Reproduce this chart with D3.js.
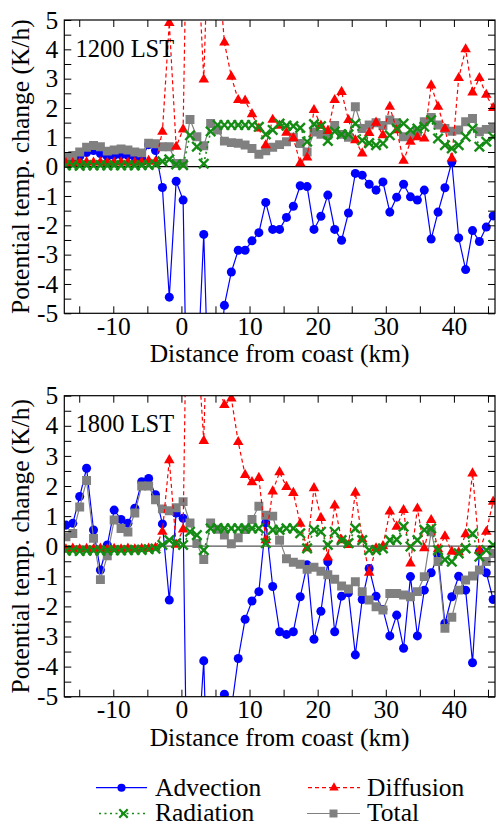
<!DOCTYPE html>
<html><head><meta charset="utf-8">
<script src="https://cdn.jsdelivr.net/npm/d3@7"></script>
<style>
body{margin:0;background:#fff}
svg{display:block}
svg text{font-family:"Liberation Serif","Tinos","Times New Roman",Times,serif;fill:#000}
</style>
</head><body>
<svg id="chart" width="496" height="825" font-family="Liberation Serif"></svg>
<script>
// ---- data ----
const distanceKm = [-16.95,-15.94,-14.93,-13.92,-12.90,-11.89,-10.88,-9.87,-8.86,-7.85,
 -6.84,-5.83,-4.81,-3.80,-2.79,-1.78,-0.77,0.25,1.26,2.27,
 3.28,4.29,5.30,6.31,7.33,8.34,9.35,10.36,11.37,12.38,
 13.40,14.41,15.42,16.43,17.44,18.45,19.46,20.48,21.49,22.50,
 23.51,24.52,25.53,26.54,27.56,28.57,29.58,30.59,31.60,32.61,
 33.62,34.64,35.65,36.66,37.67,38.68,39.69,40.70,41.72,42.73,
 43.74,44.75,45.76];

const xTickValues = [-15,-10,-5,0,5,10,15,20,25,30,35,40,45];
const xTickLabels = [-10,0,10,20,30,40];
const yTickValues = [-5,-4.5,-4,-3.5,-3,-2.5,-2,-1.5,-1,-0.5,0,0.5,1,1.5,2,2.5,3,3.5,4,4.5,5];
const yTickLabels = [-5,-4,-3,-2,-1,0,1,2,3,4,5];
const panelLabels = ["1200 LST","1800 LST"];
const seriesNames = ["Advection","Diffusion","Radiation","Total"];

const advection1200 = [0.2,0.22,0.35,0.48,0.55,0.45,0.35,0.38,0.4,0.38,
 0.33,0.3,0.75,0.55,-0.71,-4.45,-0.5,-1.14,-14.5,-7.5,
 -2.31,-10.2,-7.4,-4.73,-3.59,-2.85,-2.85,-2.53,-2.25,-1.22,
 -2.14,-2.14,-1.73,-1.35,-0.65,-0.68,-2.14,-1.69,-0.97,-2.14,
 -2.51,-1.58,-0.23,-0.29,-0.6,-0.8,-0.52,-1.55,-1.04,-0.6,
 -1.03,-1.14,-0.8,-2.47,-1.55,-0.72,0.16,-2.43,-3.51,-2.18,
 -2.55,-2.06,-1.68];
const diffusion1200 = [0.12,0.12,0.13,0.15,0.14,0.15,0.13,0.14,0.15,0.14,
 0.14,0.15,0.2,0.17,1.19,4.9,0.68,1.27,15,7.8,
 2.97,10.5,7.2,4.23,3.07,2.27,2.25,1.79,1.3,0.73,
 1.6,1.4,1.16,0.97,0.12,0.31,1.93,1.4,1.22,2.27,
 2.55,1.59,0.9,0.45,1.15,1.5,1.07,2.04,1.24,0.2,
 0.85,1.0,0.96,2.77,2.04,1.29,0.28,3.02,4.0,2.53,
 3.02,2.45,2.0];
const radiation1200 = [0.04,0.05,0.03,0.05,0.04,0.05,0.04,0.05,0.04,0.05,
 0.04,0.05,0.06,0.08,0.18,0.25,0.08,0.05,1.07,0.68,
 0.1,1.2,1.42,1.42,1.42,1.42,1.42,1.42,1.36,1.1,
 1.25,1.47,1.4,1.38,1.32,0.85,1.45,1.38,0.88,1.2,
 1.1,1.1,1.47,0.9,0.8,0.73,0.79,1.07,1.3,1.47,
 1.25,1.3,1.36,1.59,0.96,0.73,0.62,0.73,1.02,1.3,
 0.68,0.85,1.02];
const total1200 = [0.34,0.38,0.5,0.66,0.72,0.68,0.53,0.57,0.6,0.57,
 0.5,0.47,0.8,0.78,0.68,0.68,0.11,0.11,1.61,1.02,
 0.71,1.47,1.25,0.87,0.82,0.8,0.74,0.62,0.42,0.54,
 0.66,0.75,0.85,1.0,0.79,0.5,1.18,1.1,1.08,1.4,
 1.1,1.0,2.04,1.3,1.42,1.5,1.4,1.59,1.5,1.02,
 1.04,1.19,1.53,1.68,1.42,1.3,1.21,1.25,1.53,1.64,
 1.19,1.27,1.3];

const advection1800 = [0.7,0.76,1.65,2.59,0.54,-0.79,0.04,1.2,0.89,0.76,
 1.26,2.14,2.25,1.71,0.74,-1.79,1.1,0.93,-15.6,-7.35,
 -3.81,-11.6,-5.5,-4.92,-5.42,-3.73,-2.43,-1.82,-1.51,0.78,
 -1.34,-2.84,-2.93,-2.84,-1.68,-0.62,-3.09,-2.16,-0.52,-2.84,
 -1.66,-1.55,-3.61,-1.77,-0.74,-1.66,-2.1,-2.98,-2.29,-3.39,
 -1.01,-2.98,-1.46,-0.88,-0.3,-2.56,-1.68,-1.0,-1.46,-3.87,
 -0.18,-0.88,-1.77];
const diffusion1800 = [-0.1,-0.08,-0.1,-0.09,-0.1,-0.08,-0.1,-0.09,-0.1,-0.08,
 -0.1,-0.09,-0.08,-0.05,0.48,2.86,0.05,0.56,15.9,7.07,
 3.5,11.8,5.47,4.69,4.91,3.46,2.37,2.13,2.27,0.2,
 1.82,2.46,1.97,1.77,0.75,-0.07,1.93,0.94,-0.37,1.35,
 0.2,0.04,1.78,0.23,-0.88,-0.07,0.0,1.15,0.65,1.2,
 -0.57,1.25,-0.07,0.87,-0.1,0.33,-0.18,-0.2,0.4,2.42,
 -0.15,0.48,1.48];
const radiation1800 = [-0.15,-0.14,-0.16,-0.15,-0.14,-0.15,-0.14,-0.13,-0.14,-0.13,
 -0.12,-0.12,-0.1,-0.08,0.04,0.2,0.1,0.04,0.48,0.37,
 -0.13,0.59,0.6,0.59,0.59,0.59,0.59,0.59,0.59,0.1,
 0.54,0.54,0.59,0.59,0.43,-0.07,0.54,0.48,0.04,0.48,
 0.2,0.1,0.59,0.2,-0.13,-0.13,-0.07,0.2,0.22,0.65,
 -0.01,0.2,0.54,0.59,-0.13,-0.45,-0.51,-0.24,-0.07,0.42,
 -0.35,-0.13,0.04];
const total1800 = [0.31,0.42,1.3,2.18,0.26,-1.11,-0.32,0.87,0.59,0.47,
 1.1,2.0,2.0,1.54,1.24,1.18,1.28,1.48,0.77,0.09,
 -0.44,0.77,0.56,0.37,0.08,0.28,0.55,0.89,1.33,1.03,
 1.0,0.2,-0.42,-0.53,-0.6,-0.77,-0.7,-0.83,-0.95,-1.1,
 -1.32,-1.42,-1.18,-1.51,-1.79,-2.01,-2.12,-1.57,-1.57,-1.62,
 -1.68,-1.51,-1.01,0.48,-0.51,-2.73,-2.36,-1.46,-1.12,-0.99,
 -0.79,-0.51,-0.24];

// ---- styles ----
const FONT = 25.5;
const FAMILY = '"Liberation Serif","Tinos","Times New Roman",Times,serif';
const styles = {
  Advection: {color:"#0000ff", dash:null, width:1.2, symbol:d3.symbolCircle, size:64, fill:true},
  Diffusion: {color:"#ff0000", dash:"4,3", width:1.2, symbol:d3.symbolTriangle, size:48, fill:true},
  Radiation: {color:"#148c14", dash:"2,3.5", width:1.6, symbol:d3.symbolTimes, size:60, fill:false},
  Total:     {color:"#808080", dash:null, width:1.2, symbol:d3.symbolSquare, size:80, fill:true}
};
const drawOrder = ["Advection","Total","Diffusion","Radiation"];

const svg = d3.select("#chart");
svg.append("rect").attr("width",496).attr("height",825).attr("fill","#fff");

const left = 64.3, right = 495;
const x = d3.scaleLinear().domain([-17.19, 46.03]).range([left, right]);

const panels = [
  {label:panelLabels[0], top:20, bottom:313.3, zero:"#000",
   data:{Advection:advection1200, Diffusion:diffusion1200, Radiation:radiation1200, Total:total1200}},
  {label:panelLabels[1], top:395.7, bottom:696.7, zero:"#555",
   data:{Advection:advection1800, Diffusion:diffusion1800, Radiation:radiation1800, Total:total1800}}
];

function txt(sel){ return sel.style("font-family", FAMILY).attr("fill","#000"); }

panels.forEach((p, pi) => {
  const y = d3.scaleLinear().domain([-5,5]).range([p.bottom, p.top]);
  const g = svg.append("g");
  const clipId = "clip"+pi;
  svg.append("clipPath").attr("id",clipId).append("rect")
    .attr("x",left).attr("y",p.top).attr("width",right-left).attr("height",p.bottom-p.top);

  g.append("line").attr("x1",left).attr("x2",right).attr("y1",y(0)).attr("y2",y(0))
    .attr("stroke",p.zero).attr("stroke-width",1.2);

  const plot = g.append("g").attr("clip-path",`url(#${clipId})`);
  drawOrder.forEach(name => {
    const st = styles[name];
    const vals = p.data[name];
    const pts = distanceKm.map((d,i)=>[d, vals[i]]);
    const line = d3.line().x(d=>x(d[0])).y(d=>y(d[1]));
    plot.append("path").attr("d", line(pts)).attr("fill","none")
      .attr("stroke", st.color).attr("stroke-width", st.width)
      .attr("stroke-dasharray", st.dash);
    const sym = d3.symbol().type(st.symbol).size(st.size);
    plot.append("g").selectAll("path").data(pts).join("path")
      .attr("transform", d=>`translate(${x(d[0])},${y(d[1])})`)
      .attr("d", sym)
      .attr("fill", st.fill ? st.color : "none")
      .attr("stroke", st.fill ? "none" : st.color)
      .attr("stroke-width", st.fill ? 0 : 2.4);
  });

  const tickLen = 7;
  const axB = d3.axisBottom(x).tickValues(xTickValues).tickSize(-tickLen).tickPadding(3.5)
    .tickFormat(d => xTickLabels.includes(d) ? String(d) : "");
  const axT = d3.axisTop(x).tickValues(xTickValues).tickSize(-tickLen).tickFormat("");
  const axL = d3.axisLeft(y).tickValues(yTickValues).tickSize(-tickLen).tickPadding(6)
    .tickFormat(d => yTickLabels.includes(d) ? String(d) : "");
  const axR = d3.axisRight(y).tickValues(yTickValues).tickSize(-tickLen).tickFormat("");

  const gb = g.append("g").attr("transform",`translate(0,${p.bottom})`).call(axB);
  const gt = g.append("g").attr("transform",`translate(0,${p.top})`).call(axT);
  const gl = g.append("g").attr("transform",`translate(${left},0)`).call(axL);
  const gr = g.append("g").attr("transform",`translate(${right},0)`).call(axR);
  [gb,gt,gl,gr].forEach(a => {
    a.attr("font-family", null);
    a.select(".domain").remove();
    a.selectAll(".tick line").attr("stroke","#000").attr("stroke-width",1);
    txt(a.selectAll("text").attr("font-size",FONT));
  });
  g.append("rect").attr("x",left).attr("y",p.top).attr("width",right-left).attr("height",p.bottom-p.top)
    .attr("fill","none").attr("stroke","#000").attr("stroke-width",1.2);

  txt(g.append("text").attr("x",75.5).attr("y",p.top+36.5).attr("font-size",24.5).text(p.label));

  txt(g.append("text").attr("x",(left+right)/2).attr("y",p.bottom+49)
    .attr("text-anchor","middle").attr("font-size",FONT).text("Distance from coast (km)"));
  txt(g.append("text").attr("transform",`translate(29,${(p.top+p.bottom)/2}) rotate(-90)`)
    .attr("text-anchor","middle").attr("font-size",FONT).text("Potential temp. change (K/h)"));
});

// ---- legend ----
const legendItems = [
  {name:seriesNames[0], x0:96, x1:147, y:787.7, tx:155, ty:796},
  {name:seriesNames[1], x0:308, x1:360, y:787.7, tx:367, ty:796},
  {name:seriesNames[2], x0:99, x1:148, y:813.5, tx:155, ty:820.5},
  {name:seriesNames[3], x0:307, x1:360, y:813.5, tx:367, ty:820.5}
];
const lg = svg.append("g");
legendItems.forEach(it => {
  const st = styles[it.name];
  lg.append("line").attr("x1",it.x0).attr("x2",it.x1).attr("y1",it.y).attr("y2",it.y)
    .attr("stroke",st.color).attr("stroke-width",st.width).attr("stroke-dasharray",st.dash);
  lg.append("path").attr("transform",`translate(${(it.x0+it.x1)/2},${it.y})`)
    .attr("d", d3.symbol().type(st.symbol).size(st.size*0.8)())
    .attr("fill", st.fill ? st.color : "none")
    .attr("stroke", st.fill ? "none" : st.color).attr("stroke-width", st.fill?0:2.2);
  txt(lg.append("text").attr("x",it.tx).attr("y",it.ty).attr("font-size",FONT).text(it.name));
});
</script>
</body></html>
